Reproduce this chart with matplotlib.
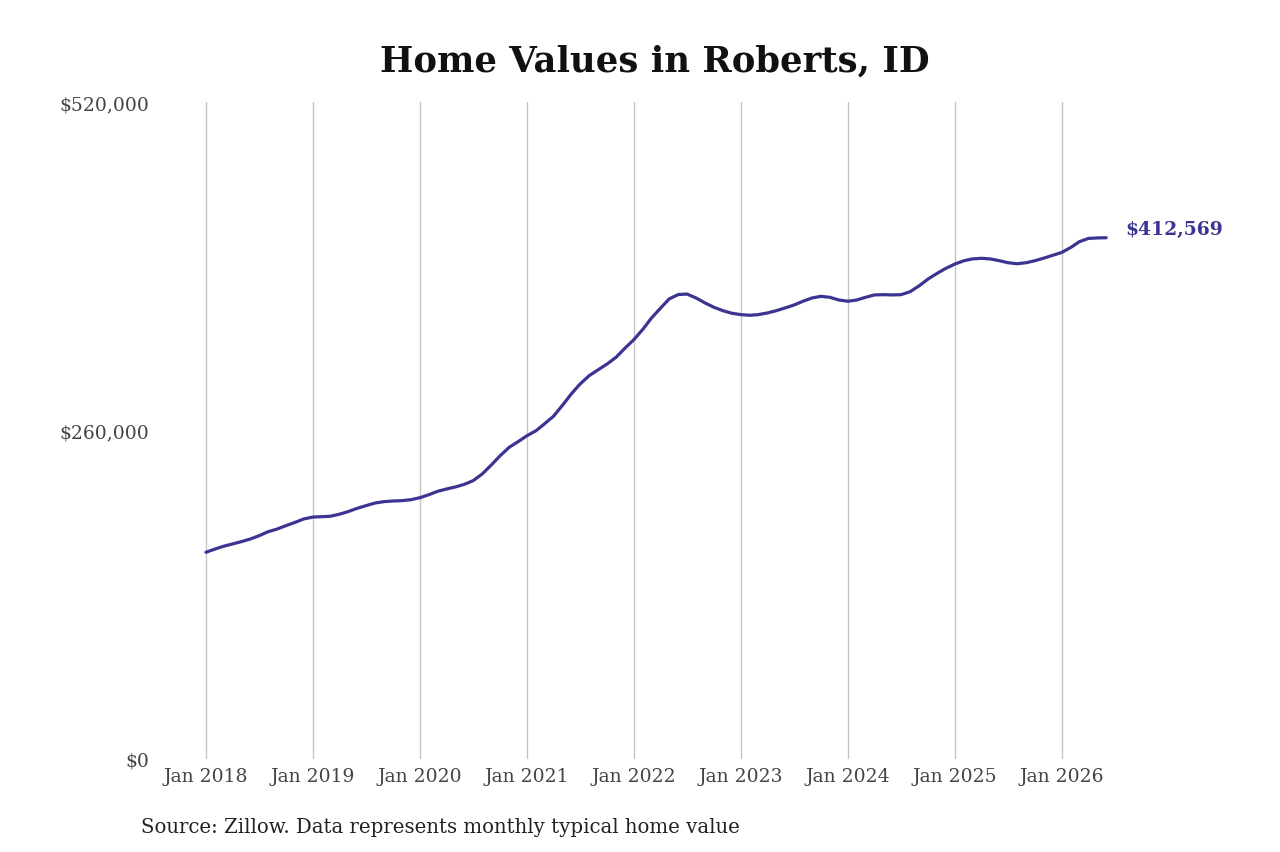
import matplotlib.pyplot as plt
import matplotlib.dates as mdates
import pandas as pd
from matplotlib.ticker import FuncFormatter

# Monthly typical home value, Jan 2018 - Jun 2026
start_month = "2018-01"
values = [
    # 2018
    163600, 166200, 168300, 170200, 172000, 174100,
    176700, 179900, 182000, 184700, 187300, 190000,
    # 2019
    191500, 191800, 192100, 193700, 195800, 198400,
    200500, 202600, 203700, 204200, 204500, 205200,
    # 2020
    206800, 209200, 211800, 213700, 215300, 217400,
    220300, 225600, 232700, 240000, 246700, 251100,
    # 2021
    255900, 259900, 265200, 271200, 279700, 288900,
    296800, 303400, 308100, 312600, 318000, 325100,
    # 2022
    332000, 340300, 348800, 356700, 364100, 367600,
    368000, 364900, 360900, 357500, 354800, 352800,
    # 2023
    351700, 351200, 351700, 353000, 354800, 357000,
    359300, 362300, 364900, 366200, 365400, 363300,
    # 2024
    362300, 363300, 365400, 367300, 367500, 367300,
    367500, 369900, 374600, 379900, 384400, 388400,
    # 2025
    391800, 394400, 395800, 396300, 395800, 394400,
    392800, 392000, 392800, 394400, 396500, 398700,
    # 2026
    401000, 405000, 409400, 412000, 412400, 412569,
]
tick_years = list(range(2018, 2027))

x = pd.date_range(start_month, periods=len(values), freq="MS")
line_color = "#3b3491"

plt.rcParams['font.family'] = ['DejaVu Serif']
fig = plt.figure(figsize=(12.8, 8.53), dpi=100)
ax = fig.add_axes([160 / 1280, 93 / 853, 950 / 1280, 657 / 853])

ax.plot(x, values, color=line_color, linewidth=2.3, solid_capstyle='round')

# last value label
ax.annotate("$" + format(values[-1], ","), (x[-1], values[-1]), xytext=(14, 0),
            textcoords='offset points', color=line_color, fontsize=13.5,
            fontweight='bold', va='bottom', ha='left')

jan = pd.to_datetime([f"{y}-01-01" for y in tick_years])
ax.set_xticks(jan)
ax.set_xticklabels(["Jan " + str(y) for y in tick_years])
ax.set_xlim(mdates.date2num(jan[0]) - 157, mdates.date2num(jan[-1]) + 164)
ax.set_ylim(0, 520000)
ax.set_yticks([0, 260000, 520000])
ax.yaxis.set_major_formatter(FuncFormatter(lambda v, p: "$" + format(int(v), ",")))

ax.grid(True, axis='x', color='#c4c4c4', linewidth=1)
ax.grid(False, axis='y')
for s in ax.spines.values():
    s.set_visible(False)
ax.tick_params(axis='both', length=0, labelsize=13.5, labelcolor='#444444')
ax.tick_params(axis='x', pad=6)
ax.tick_params(axis='y', pad=8)

fig.text(655 / 1280, 1 - 62 / 853, "Home Values in Roberts, ID", ha='center', va='center',
         fontsize=25.5, fontweight='bold', color='#111111')
fig.text(141 / 1280, 1 - 828 / 853, "Source: Zillow. Data represents monthly typical home value",
         ha='left', va='center', fontsize=14.2, color='#222222')

fig.savefig("out.png", dpi=100, facecolor='white')
